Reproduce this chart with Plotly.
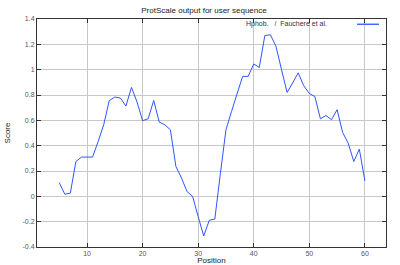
import plotly.graph_objects as go

positions = list(range(5, 61))
scores = [0.108, 0.017, 0.025, 0.275, 0.31, 0.31, 0.31, 0.433, 0.565, 0.755,
          0.784, 0.776, 0.713, 0.86, 0.745, 0.597, 0.612, 0.757, 0.586, 0.565,
          0.525, 0.235, 0.145, 0.037, 0.0, -0.16, -0.313, -0.189, -0.179, 0.18,
          0.525, 0.67, 0.81, 0.947, 0.947, 1.045, 1.018, 1.27, 1.275, 1.185,
          1.0, 0.82, 0.895, 0.975, 0.873, 0.812, 0.788, 0.612, 0.638, 0.605,
          0.684, 0.504, 0.42, 0.275, 0.373, 0.122]

x_ticks = [10, 20, 30, 40, 50, 60]
y_ticks = [-0.4, -0.2, 0, 0.2, 0.4, 0.6, 0.8, 1, 1.2, 1.4]
y_tick_labels = ["-0.4", "-0.2", "0", "0.2", "0.4", "0.6", "0.8", "1", "1.2", "1.4"]

title_text = "ProtScale output for user sequence"
legend_text = "Hphob.   /  Fauchere et al."
line_color = "#2f55ff"

fig = go.Figure()
fig.add_trace(go.Scatter(x=positions, y=scores, mode="lines",
                         line=dict(color=line_color, width=1),
                         showlegend=False, hoverinfo="skip"))

axis_common = dict(showline=True, linecolor="#333333", linewidth=1, mirror="ticks",
                   ticks="inside", ticklen=4, tickcolor="#333333",
                   showgrid=True, gridcolor="#c8c8c8", gridwidth=1,
                   zeroline=False, automargin=False,
                   tickfont=dict(family="Liberation Sans, Arial", size=7, color="#555555"))

fig.update_layout(
    width=400, height=265,
    margin=dict(l=37, r=14, t=19, b=18),
    paper_bgcolor="white", plot_bgcolor="white",
    font=dict(family="Liberation Sans, Arial", size=8, color="#222222"),
    title=dict(text=title_text, x=0.51, xanchor="center", y=0.96, yanchor="middle",
               font=dict(size=8, color="#222222")),
    xaxis=dict(range=[1, 63.8], tickvals=x_ticks,
               title=dict(text="Position", standoff=2, font=dict(size=8)),
               **axis_common),
    yaxis=dict(range=[-0.4, 1.4], tickvals=y_ticks, ticktext=y_tick_labels,
               title=dict(text="Score", standoff=10, font=dict(size=8)),
               **axis_common),
)

fig.add_annotation(x=0.837, y=0.98, xref="paper", yref="paper", text=legend_text,
                   showarrow=False, xanchor="right", yanchor="middle",
                   font=dict(size=7, color="#333333"))
fig.add_shape(type="line", xref="paper", yref="paper", x0=0.917, x1=0.98, y0=0.977, y1=0.977,
              layer="above", line=dict(color=line_color, width=1.3))

fig.write_html("out.html", config={"displayModeBar": False, "staticPlot": True},
               post_script="document.body.style.margin='0';document.body.style.overflow='hidden';")
